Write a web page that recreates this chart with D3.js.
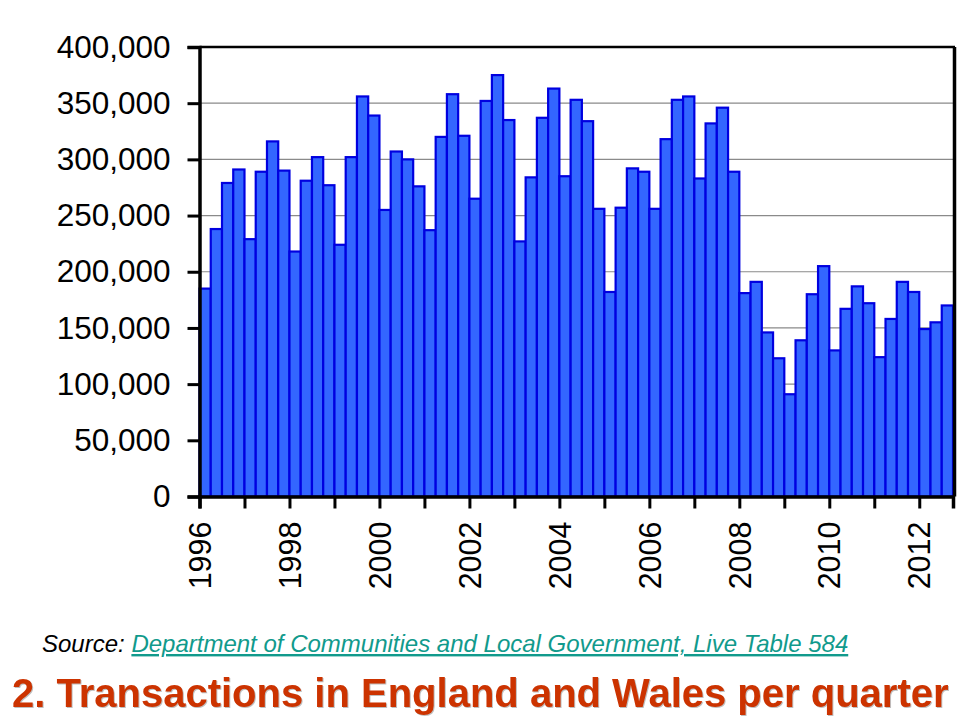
<!DOCTYPE html>
<html>
<head>
<meta charset="utf-8">
<script src="https://cdn.jsdelivr.net/npm/d3@7"></script>
<style>
  html, body { margin: 0; padding: 0; background: #fff; }
  svg { display: block; }
</style>
</head>
<body>
<svg id="chart" width="960" height="720"></svg>
<script>
"use strict";

// Quarterly property transactions, England and Wales, 1996 Q1 - 2012 Q3
var startYear = 1996;
var quarters = ["Q1", "Q2", "Q3", "Q4"];
var transactions = [
    185000, 238000, 279000, 291000,   // 1996
    229000, 289000, 316000, 290000,   // 1997
    218000, 281000, 302000, 277000,   // 1998
    224000, 302000, 356000, 339000,   // 1999
    255000, 307000, 300000, 276000,   // 2000
    237000, 320000, 358000, 321000,   // 2001
    265000, 352000, 375000, 335000,   // 2002
    227000, 284000, 337000, 363000,   // 2003
    285000, 353000, 334000, 256000,   // 2004
    182000, 257000, 292000, 289000,   // 2005
    256000, 318000, 353000, 356000,   // 2006
    283000, 332000, 346000, 289000,   // 2007
    181000, 191000, 146000, 123000,   // 2008
    91000, 139000, 180000, 205000,    // 2009
    130000, 167000, 187000, 172000,   // 2010
    124000, 158000, 191000, 182000,   // 2011
    149000, 155000, 170000            // 2012
];
var yTicks = [0, 50000, 100000, 150000, 200000, 250000, 300000, 350000, 400000];
var yearTicks = d3.range(1996, 2013);
var yearLabels = [1996, 1998, 2000, 2002, 2004, 2006, 2008, 2010, 2012];
var sourceLabel = "Source: ";
var sourceLink = "Department of Communities and Local Government, Live Table 584";
var title = "2. Transactions in England and Wales per quarter";

var svg = d3.select("#chart");
var links = 199.5, rechts = 953, boven = 47, onder = 496.5;
var eindJaar = startYear + transactions.length / 4;

var x = d3.scaleLinear().domain([startYear, eindJaar]).range([links, rechts]);
var y = d3.scaleLinear().domain([0, 400000]).range([onder, boven]);
var breedte = x(startYear + 0.25) - x(startYear);

// Rasterlijnen
svg.append("g")
    .selectAll("line")
    .data(yTicks.filter(function (t) { return t > 0 && t < 400000; }))
    .enter().append("line")
    .attr("x1", links).attr("x2", rechts)
    .attr("y1", function (d) { return y(d); })
    .attr("y2", function (d) { return y(d); })
    .attr("stroke", "#8a8a8a")
    .attr("stroke-width", 1.2);

// Staven
svg.append("g")
    .selectAll("rect")
    .data(transactions)
    .enter().append("rect")
    .attr("x", function (d, i) { return x(startYear + i / 4); })
    .attr("y", function (d) { return y(d); })
    .attr("width", breedte)
    .attr("height", function (d) { return y(0) - y(d); })
    .attr("fill", "#3366ff")
    .attr("stroke", "#0000e0")
    .attr("stroke-width", 2.2)
    .append("title")
    .text(function (d, i) { return (startYear + Math.floor(i / 4)) + " " + quarters[i % 4] + ": " + d3.format(",")(d); });

// Kader
svg.append("line").attr("x1", links).attr("x2", rechts + 2).attr("y1", boven).attr("y2", boven)
    .attr("stroke", "#000").attr("stroke-width", 2.5);
svg.append("line").attr("x1", rechts + 1.5).attr("x2", rechts + 1.5).attr("y1", boven).attr("y2", onder)
    .attr("stroke", "#000").attr("stroke-width", 3.5);

// Y-as
var yAxis = svg.append("g")
    .attr("transform", "translate(" + links + ",0)")
    .call(d3.axisLeft(y).tickValues(yTicks).tickSize(12).tickPadding(17).tickFormat(d3.format(",")));
yAxis.select(".domain").attr("stroke", "#000").attr("stroke-width", 3.5);
yAxis.selectAll(".tick line").attr("stroke", "#000").attr("stroke-width", 3);
yAxis.selectAll("text")
    .attr("fill", "#000")
    .style("font-family", "'Liberation Sans', Arial, sans-serif")
    .style("font-size", "31.5px");

// X-as
var xAxis = svg.append("g")
    .attr("transform", "translate(0," + onder + ")")
    .call(d3.axisBottom(x).tickValues(yearTicks).tickSize(12)
        .tickFormat(function (d) { return yearLabels.indexOf(d) >= 0 ? d : ""; }));
xAxis.select(".domain").attr("stroke", "#000").attr("stroke-width", 3.5);
xAxis.selectAll(".tick line").attr("stroke", "#000").attr("stroke-width", 3);
xAxis.selectAll("text")
    .attr("fill", "#000")
    .attr("transform", "rotate(-90)")
    .attr("x", -25)
    .attr("y", 0)
    .attr("dy", "0.35em")
    .attr("text-anchor", "end")
    .style("font-family", "'Liberation Sans', Arial, sans-serif")
    .style("font-size", "30.5px");

// Bron
var bron = svg.append("text")
    .attr("x", 42).attr("y", 652)
    .style("font-family", "'Liberation Sans', Arial, sans-serif")
    .style("font-size", "24px")
    .style("font-style", "italic");
bron.append("tspan").attr("fill", "#000").text(sourceLabel);
bron.append("tspan").attr("fill", "#119a8c").style("text-decoration", "underline").text(sourceLink);

// Titel
svg.append("text")
    .attr("x", 12).attr("y", 707)
    .attr("fill", "#cc3300")
    .style("font-family", "'Liberation Sans', Arial, sans-serif")
    .style("font-size", "40px")
    .style("font-weight", "bold")
    .style("filter", "drop-shadow(1px 1px 0px rgba(0,0,0,0.25))")
    .text(title);
</script>
</body>
</html>
